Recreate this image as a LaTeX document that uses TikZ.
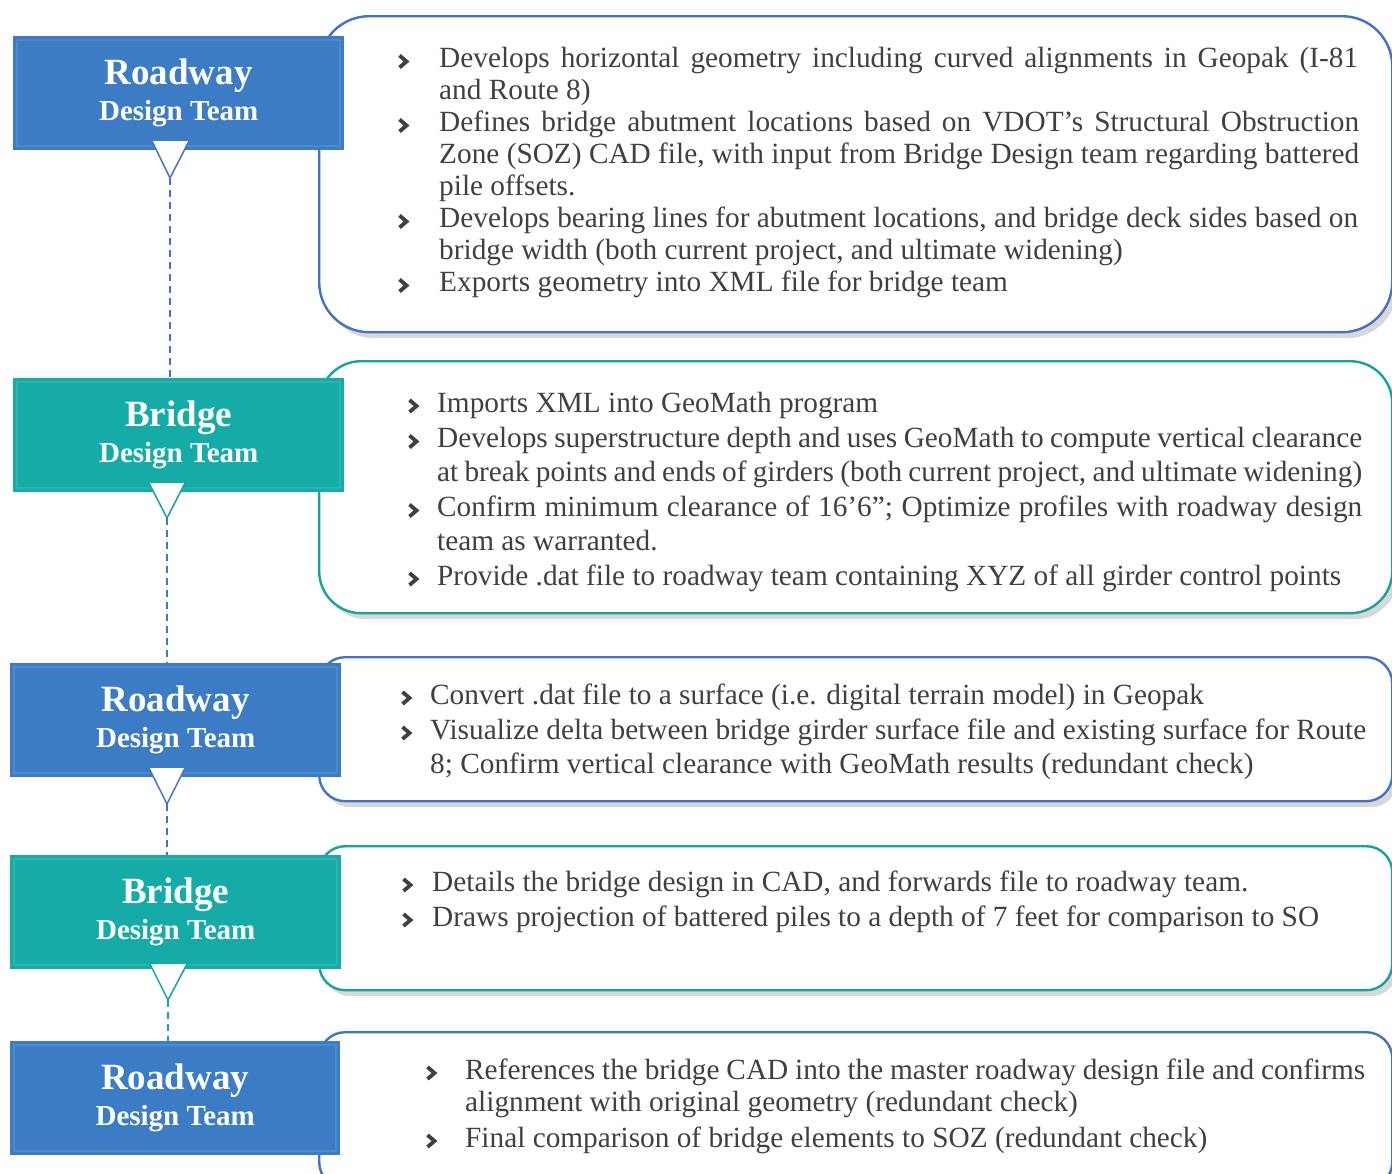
\documentclass[tikz,border=0pt]{standalone}
\usepackage{fontspec}
\setmainfont{Liberation Serif}
\usetikzlibrary{shadows}
\definecolor{rblue}{HTML}{4472C4}
\definecolor{rteal}{HTML}{14A39E}
\definecolor{fblue}{HTML}{3B7CC5}
\definecolor{fteal}{HTML}{15ACA8}
\definecolor{txt}{HTML}{404040}
\newcommand\bodyfont{\fontsize{29.3}{32}\selectfont}
\newcommand\jline[2]{\makebox[#1pt][s]{#2}}
\newcommand\chev[2]{\draw[chevst] (#1+1.5,#2-12) -- (#1+8.5,#2-6) -- (#1+1.5,#2);}
\begin{document}
\begin{tikzpicture}[x=1pt,y=-1pt,
  rbox/.style={draw, line width=2.4pt, fill=white, inner sep=0pt, anchor=north west,
    drop shadow={shadow xshift=5pt, shadow yshift=-6pt, opacity=0.22, fill=black!70}},
  lbox/.style={rectangle, inner sep=0pt, anchor=north west, text=white, align=center,
    minimum width=331pt, minimum height=114pt,
    font=\bfseries\fontsize{29}{36}\selectfont},
  glass/.style={draw=white, draw opacity=0.10, line width=2pt},
  tline/.style={anchor=base west, inner sep=0pt, text=txt, font=\bodyfont},
  chevst/.style={draw=txt, line width=3.8pt, line join=miter},
  triside/.style={line width=1.5pt},
  dashln/.style={line width=1.6pt, dash pattern=on 7pt off 5pt}
]
\useasboundingbox (0,0) rectangle (1392,1173);

% right rounded panels
\node[rbox, draw=rblue, rounded corners=50pt, minimum width=1073pt, minimum height=316pt] (R1) at (318,15) {};
\node[rbox, draw=rteal, rounded corners=42pt, minimum width=1073pt, minimum height=252pt] (R2) at (318,360) {};
\node[rbox, draw=rblue, rounded corners=26pt, minimum width=1073pt, minimum height=144pt] (R3) at (318,656) {};
\node[rbox, draw=rteal, rounded corners=26pt, minimum width=1073pt, minimum height=144pt] (R4) at (318,845) {};
\node[rbox, draw=rblue, rounded corners=26pt, minimum width=1073pt, minimum height=156pt] (R5) at (318,1031) {};

% left team boxes
\node[lbox, fill=fblue] (L1) at (13,36) {{\fontsize{37}{36}\selectfont Roadway}\\Design Team};
\node[lbox, fill=fteal] (L2) at (13,378) {{\fontsize{37}{36}\selectfont Bridge}\\Design Team};
\node[lbox, fill=fblue] (L3) at (10,663) {{\fontsize{37}{36}\selectfont Roadway}\\Design Team};
\node[lbox, fill=fteal] (L4) at (10,855) {{\fontsize{37}{36}\selectfont Bridge}\\Design Team};
\node[lbox, fill=fblue, minimum width=330pt] (L5) at (10,1041) {{\fontsize{37}{36}\selectfont Roadway}\\Design Team};
\foreach \b in {L1,L2,L3,L4,L5}{
  \draw[glass] ([shift={(4,4)}]\b.north west) rectangle ([shift={(-4,-4)}]\b.south east);
}

% notches and connectors
\coordinate (T1) at (170,178);
\coordinate (T2) at (167,518);
\coordinate (T3) at (167,804);
\coordinate (T4) at (168,1000);
\fill[white] (152,141) -- (189,141) -- (T1) -- cycle;
\draw[triside, rblue] (152,141) -- (T1) -- (189,141);
\fill[white] (149,483) -- (185,483) -- (T2) -- cycle;
\draw[triside, rteal] (149,483) -- (T2) -- (185,483);
\fill[white] (149,768) -- (185,768) -- (T3) -- cycle;
\draw[triside, rblue] (149,768) -- (T3) -- (185,768);
\fill[white] (150,964) -- (187,964) -- (T4) -- cycle;
\draw[triside, rteal] (150,964) -- (T4) -- (187,964);

\draw[dashln, rblue] (T1) -- (T1 |- L2.north);
\draw[dashln, rblue!75!rteal] (T2) -- (T2 |- L3.north);
\draw[dashln, rblue] (T3) -- (T3 |- L4.north);
\draw[dashln, rteal] (T4) -- (T4 |- L5.north);

% panel 1
\chev{398}{67.5}
\node[tline] (a1) at (439,67.5) {\jline{919}{Develops horizontal geometry including curved alignments in Geopak (I-81}};
\node[tline] (a2) at (439,99.5) {and Route 8)};
\chev{398}{131.5}
\node[tline] (a3) at (439,131.5) {\jline{920}{Defines bridge abutment locations based on VDOT’s Structural Obstruction}};
\node[tline] (a4) at (439,163.5) {\jline{920}{Zone (SOZ) CAD file, with input from Bridge Design team regarding battered}};
\node[tline] (a5) at (439,195.5) {pile offsets.};
\chev{398}{227.5}
\node[tline] (a6) at (439,227.5) {\jline{919}{Develops bearing lines for abutment locations, and bridge deck sides based on}};
\node[tline] (a7) at (439,259.5) {bridge width (both current project, and ultimate widening)};
\chev{398}{291.5}
\node[tline] (a8) at (439,291.5) {Exports geometry into XML file for bridge team};

% panel 2
\chev{408}{412}
\node[tline] (b1) at (437,412) {Imports XML into GeoMath program};
\chev{408}{447.5}
\node[tline] (b2) at (437,447.5) {\jline{925}{Develops superstructure depth and uses GeoMath to compute vertical clearance}};
\node[tline] (b3) at (437,481) {\jline{925}{at break points and ends of girders (both current project, and ultimate widening)}};
\chev{408}{516.5}
\node[tline] (b4) at (437,516.5) {\jline{925}{Confirm minimum clearance of 16’6”; Optimize profiles with roadway design}};
\node[tline] (b5) at (437,550) {team as warranted.};
\chev{408}{585}
\node[tline] (b6) at (437,585) {Provide .dat file to roadway team containing XYZ of all girder control points};

% panel 3
\chev{401}{704}
\node[tline] (c1) at (430,704) {Convert .dat file to a surface (i.e. digital terrain model) in Geopak};
\chev{401}{739}
\node[tline] (c2) at (430,739) {\jline{936}{Visualize delta between bridge girder surface file and existing surface for Route}};
\node[tline] (c3) at (430,773) {8; Confirm vertical clearance with GeoMath results (redundant check)};

% panel 4
\chev{402}{891}
\node[tline] (d1) at (432,891) {Details the bridge design in CAD, and forwards file to roadway team.};
\chev{402}{926}
\node[tline] (d2) at (432,926) {Draws projection of battered piles to a depth of 7 feet for comparison to SO};

% panel 5
\chev{426}{1079}
\node[tline] (e1) at (465,1079) {\jline{900}{References the bridge CAD into the master roadway design file and confirms}};
\node[tline] (e2) at (465,1111) {alignment with original geometry (redundant check)};
\chev{426}{1147}
\node[tline] (e3) at (465,1147) {Final comparison of bridge elements to SOZ (redundant check)};
\end{tikzpicture}
\end{document}
